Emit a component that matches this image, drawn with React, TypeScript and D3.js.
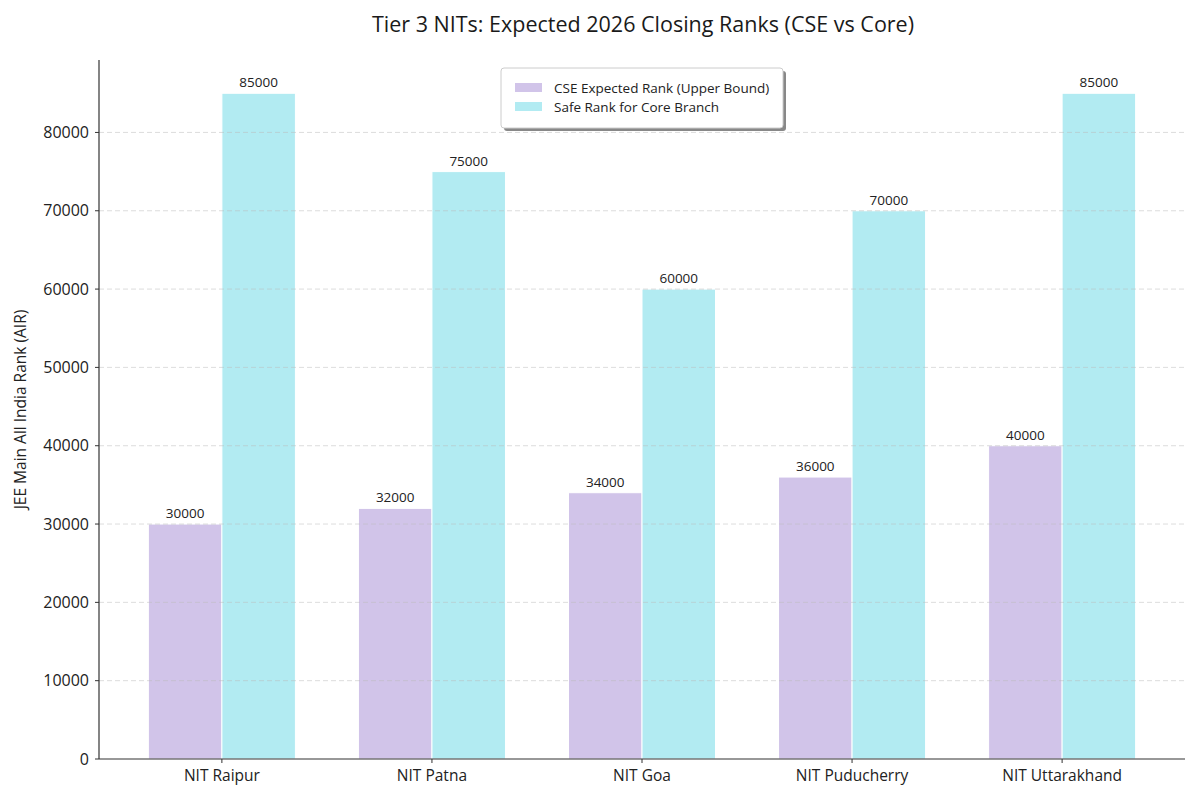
import { useMemo } from 'react';
import * as d3 from 'd3';

const colleges = ['NIT Raipur', 'NIT Patna', 'NIT Goa', 'NIT Puducherry', 'NIT Uttarakhand'];
const cseRanks = [30000, 32000, 34000, 36000, 40000];
const coreRanks = [85000, 75000, 60000, 70000, 85000];
const yTicks = [0, 10000, 20000, 30000, 40000, 50000, 60000, 70000, 80000];
const seriesNames = ['CSE Expected Rank (Upper Bound)', 'Safe Rank for Core Branch'];
const seriesColors = ['#d1c4e9', '#b2ebf2'];

const W = 1200;
const H = 800;
const M = { left: 99, right: 15, top: 60, bottom: 41 };
const FONT = "'Open Sans', 'Noto Sans', sans-serif";

export default function App() {
  const { x, y } = useMemo(() => {
    const barW = 0.35;
    const lo = -barW;
    const hi = colleges.length - 1 + barW;
    const pad = (hi - lo) * 0.05;
    const x = d3.scaleLinear().domain([lo - pad, hi + pad]).range([M.left, W - M.right]);
    const maxV = d3.max([...cseRanks, ...coreRanks]) ?? 0;
    const y = d3.scaleLinear().domain([0, maxV * 1.05]).range([H - M.bottom, M.top]);
    return { x, y };
  }, []);

  const bw = x(0.35) - x(0);
  const series = [cseRanks, coreRanks];

  return (
    <svg width={W} height={H} style={{ position: 'absolute', left: 0, top: 0, fontFamily: FONT }}>
      <rect width={W} height={H} fill="#fff" />
      <text x={(M.left + W - M.right) / 2 + 1} y={32} textAnchor="middle" fontSize={21.5} fill="#1a1a1a">
        Tier 3 NITs: Expected 2026 Closing Ranks (CSE vs Core)
      </text>

      {series.map((vals, si) =>
        vals.map((v, i) => {
          const x0 = si === 0 ? x(i) - bw : x(i);
          return (
            <g key={`${si}-${i}`}>
              <rect
                x={x0}
                y={y(v)}
                width={bw}
                height={y(0) - y(v)}
                fill={seriesColors[si]}
                stroke="#fff"
                strokeWidth={1}
              />
              <text x={x0 + bw / 2} y={y(v) - 6} textAnchor="middle" fontSize={13.5} fill="#222">
                {v}
              </text>
            </g>
          );
        })
      )}

      {yTicks.slice(1).map((t) => (
        <line
          key={t}
          x1={M.left}
          x2={W - M.right}
          y1={y(t)}
          y2={y(t)}
          stroke="#bbb"
          strokeOpacity={0.5}
          strokeDasharray="5,3"
        />
      ))}

      <line x1={M.left} x2={M.left} y1={M.top} y2={y(0)} stroke="#333" strokeWidth={1.2} />
      <line x1={M.left} x2={W - M.right} y1={y(0)} y2={y(0)} stroke="#333" strokeWidth={1.2} />

      {yTicks.map((t) => (
        <g key={t} transform={`translate(${M.left},${y(t)})`}>
          <line x1={-4} x2={0} stroke="#333" />
          <text x={-10} dy="0.35em" textAnchor="end" fontSize={16} fill="#222">
            {t}
          </text>
        </g>
      ))}

      {colleges.map((c, i) => (
        <g key={c} transform={`translate(${x(i)},${y(0)})`}>
          <line y1={0} y2={4} stroke="#333" />
          <text y={22} textAnchor="middle" fontSize={15.5} fill="#222">
            {c}
          </text>
        </g>
      ))}

      <text
        transform={`translate(26,${(M.top + y(0)) / 2}) rotate(-90)`}
        textAnchor="middle"
        fontSize={15.5}
        fill="#222"
      >
        JEE Main All India Rank (AIR)
      </text>

      <g transform="translate(501,68)">
        <rect x={3} y={3} width={282} height={60} rx={3} fill="#888" />
        <rect x={0} y={0} width={282} height={60} rx={3} fill="#fff" stroke="#ccc" />
        {seriesNames.map((s, i) => (
          <g key={s} transform={`translate(14,${20 + i * 19})`}>
            <rect x={0} y={-5} width={27} height={9} fill={seriesColors[i]} />
            <text x={39} dy="0.35em" fontSize={13.5} fill="#222">
              {s}
            </text>
          </g>
        ))}
      </g>
    </svg>
  );
}
